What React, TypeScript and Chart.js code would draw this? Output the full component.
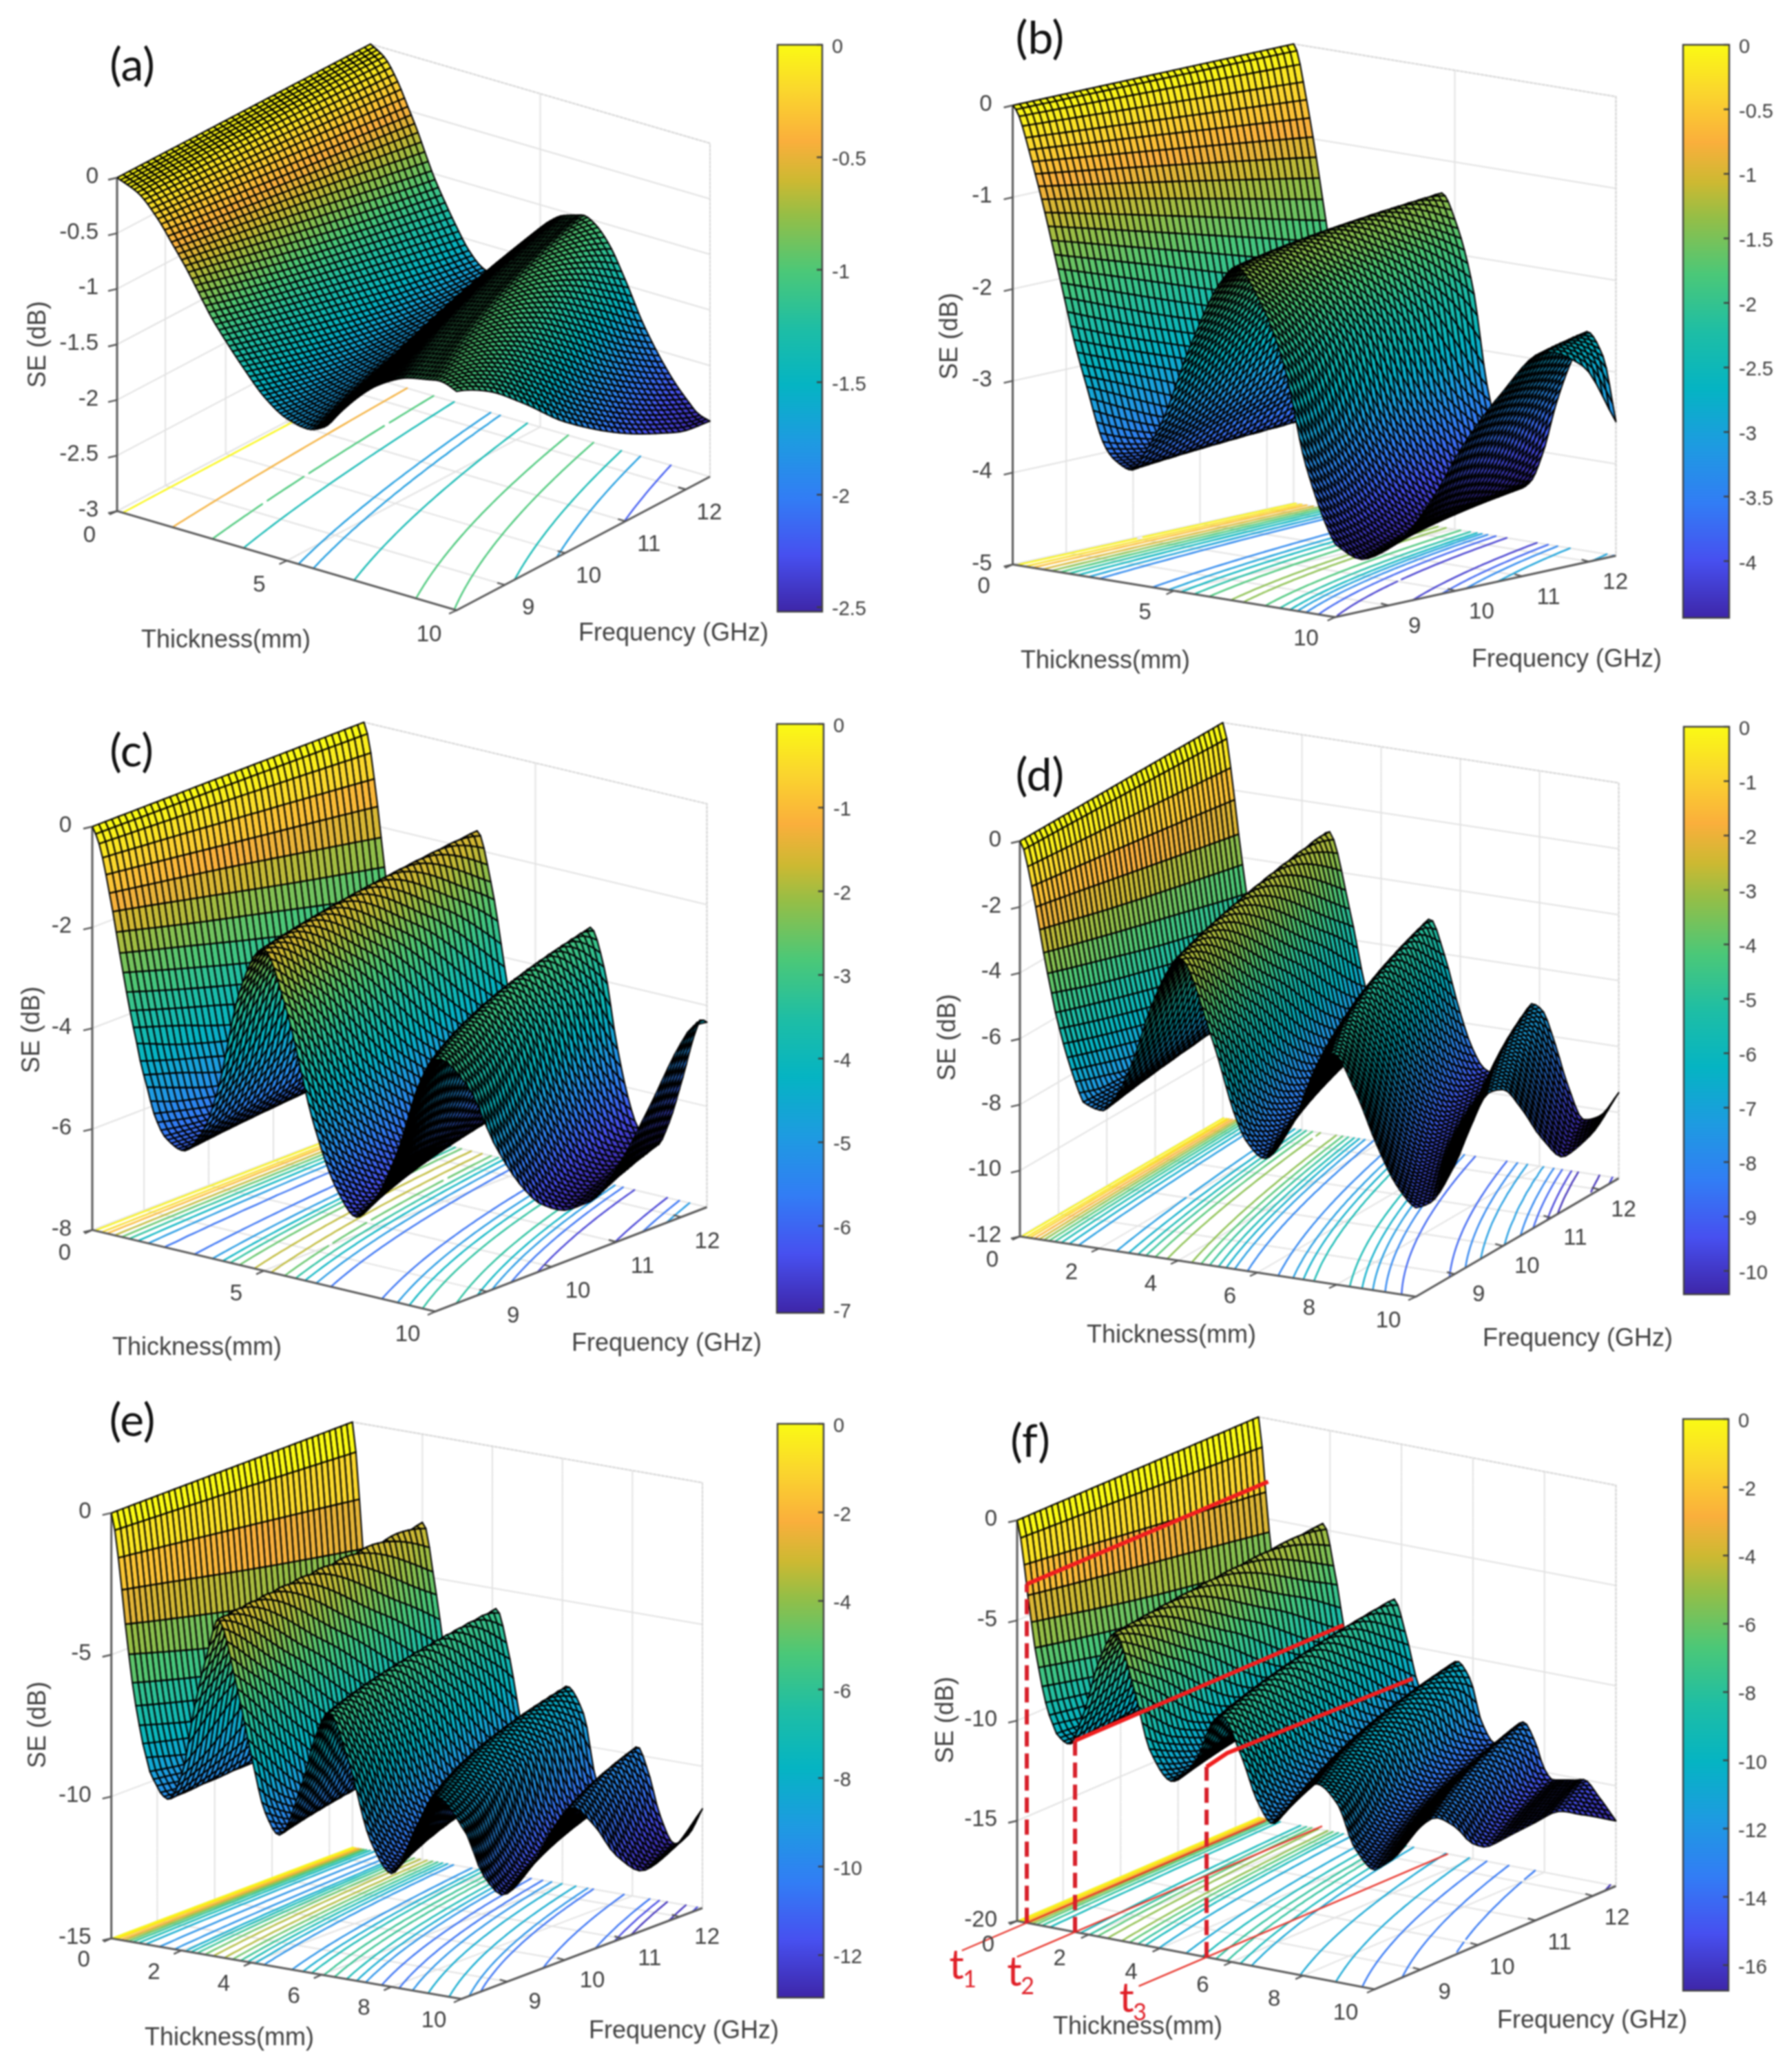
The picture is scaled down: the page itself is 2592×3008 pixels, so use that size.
import React, { useEffect, useRef } from 'react';
import { Chart, registerables, ScatterController } from 'chart.js';

// ---------- values ----------
// SE (dB) against the product thickness(mm) x frequency(GHz), per panel
const uA = [0,5,10,13,17,21,23,26,31,36,41,46,50,54,58,62,66,70,75,78,82,87,93,100,110,116,120,124];
const seA = [0,-0.08,-0.27,-0.43,-0.65,-0.9,-1.02,-1.17,-1.4,-1.6,-1.72,-1.76,-1.7,-1.52,-1.35,-1.21,-1.11,-1.04,-1.0,-0.98,-1.03,-1.17,-1.45,-1.82,-2.21,-2.38,-2.47,-2.5];
const uB = [0,1,2,4,7.5,12.2,15.8,18.7,23.5,26,30,35,38,45.6,53,57,63,69,74.6,82,86.6,91,96,101,106.6,113,119,124];
const seB = [0,-0.05,-0.15,-0.44,-0.99,-1.83,-2.48,-2.91,-3.55,-3.68,-3.76,-3.44,-3.18,-2.26,-1.55,-1.36,-1.7,-2.34,-3.4,-4.2,-4.44,-4.35,-4.0,-3.45,-2.98,-2.61,-2.85,-3.54];
const uC = [0,0.82,1.64,2.46,3.28,4.1,4.92,5.74,6.56,7.38,8.2,9.02,9.84,10.66,11.48,12.3,13.12,13.94,14.76,17.5,21.6,26,30,35,39.4,41,46,53,58.5,63,68,73.5,78,82,87,91.3,95.5,98.6,103,106,110,115,120,122,124];
const seC = [0,-0.13,-0.31,-0.57,-0.89,-1.24,-1.59,-1.98,-2.38,-2.75,-3.12,-3.47,-3.79,-4.09,-4.42,-4.68,-4.91,-5.17,-5.4,-5.82,-6.0,-5.6,-4.64,-2.65,-1.72,-1.62,-2.6,-4.86,-6.04,-6.5,-6.0,-4.88,-3.6,-3.0,-3.77,-5.17,-6.2,-6.7,-7.0,-7.0,-6.55,-5.6,-4.55,-4.3,-4.33];
const uD = [0,0.82,1.64,2.46,3.28,4.1,4.92,5.74,6.56,7.38,8.2,9.02,9.84,10.66,11.48,12.3,13.12,17,20,23.5,27,30.5,33,40,44.6,47,50.5,56.4,61,65,69.3,74,78,82,85,90,93,97,100,104,108,113,118,124];
const seD = [0,-0.24,-0.74,-1.32,-1.93,-2.6,-3.28,-3.89,-4.47,-5.04,-5.51,-5.95,-6.35,-6.71,-7.05,-7.37,-7.63,-7.8,-7.3,-6.12,-4.5,-3.3,-2.8,-5.2,-7.35,-8.08,-8.5,-7.35,-5.67,-5.0,-6.0,-7.6,-8.7,-9.3,-9.4,-8.7,-7.9,-7.1,-7.25,-8.2,-9.4,-10.38,-10.2,-9.4];
const uE = [0,0.82,1.64,2.46,3.28,4.1,4.92,5.74,6.56,7.38,8.2,9.02,10.5,12,13.4,16.7,19.4,22.7,25,29.4,32.8,36,39.2,44.8,48,51,55.5,60.8,65.6,71.6,76,82,86,89.6,94,98,101,105,109,114,119,124];
const seE = [0,-0.59,-1.54,-2.65,-3.84,-4.88,-5.86,-6.65,-7.32,-7.94,-8.41,-8.88,-9.3,-9.65,-9.75,-8.7,-6.4,-4.24,-3.1,-5.36,-7.7,-9.6,-10.33,-8.33,-6.55,-5.7,-7.27,-10,-11,-9.15,-8.0,-8.9,-11,-11.9,-11.3,-10.2,-9.7,-10.6,-12,-12.9,-12.5,-11.5];
const uF = [0,0.82,1.64,2.46,3.28,4.1,4.92,5.74,6.56,7.38,8.2,9.02,11.9,15,18.9,22.5,26.7,30.6,35.4,41,45,47,51.4,55.3,58.5,63,69,73.5,77.4,82,85,90.5,92,96,99,102,106,110,113,118,124];
const seF = [0,-0.85,-2.16,-3.65,-4.95,-6.2,-7.15,-8.06,-8.83,-9.42,-9.85,-10.27,-10.68,-9.2,-6.2,-4.7,-7.2,-10.27,-11.55,-10.3,-8.15,-7.8,-9.6,-11.8,-12.7,-11.5,-10.3,-11.1,-13.1,-14.04,-13.9,-12.8,-12.7,-13.6,-14.8,-15.3,-15.2,-15.1,-15,-15.7,-16.75];

const levelsA = [-0.02,-0.45,-1.02,-1.38,-1.75,-2.2];
const levelsB = [-0.05,-0.3,-0.6,-1,-1.4,-1.8,-2.2,-2.6,-3,-3.4,-3.8,-4.2];
const levelsC = [-0.1,-0.5,-1,-1.8,-2.6,-3.4,-4.2,-5,-5.8,-6.6];
const levelsD = [-0.1,-0.5,-1,-1.7,-2.5,-3.3,-4.1,-4.9,-5.7,-6.5,-7.3,-8.1,-8.9,-9.7,-10.2];
const levelsE = [-0.1,-0.5,-1.1,-2.3,-3.5,-4.7,-5.9,-7.1,-8.3,-9.5,-10.7,-11.9,-12.6];
const levelsF = [-0.2,-0.6,-1.2,-2,-3,-4,-5.2,-6.5,-8,-9.5,-11,-13.6,-16.4];

const thicknessTicksFew = [0,5,10];
const thicknessTicksMany = [0,2,4,6,8,10];
const frequencyTicks = [9,10,11,12];
const zTicksA = [0,-0.5,-1,-1.5,-2,-2.5,-3];
const zTicksB = [0,-1,-2,-3,-4,-5];
const zTicksC = [0,-2,-4,-6,-8];
const zTicksD = [0,-2,-4,-6,-8,-10,-12];
const zTicksE = [0,-5,-10,-15];
const zTicksF = [0,-5,-10,-15,-20];
const barTicksA = [0,-0.5,-1,-1.5,-2,-2.5];
const barTicksB = [0,-0.5,-1,-1.5,-2,-2.5,-3,-3.5,-4];
const barTicksC = [0,-1,-2,-3,-4,-5,-6,-7];
const barTicksD = [0,-1,-2,-3,-4,-5,-6,-7,-8,-9,-10];
const barTicksE = [0,-2,-4,-6,-8,-10,-12];
const barTicksF = [0,-2,-4,-6,-8,-10,-12,-14,-16];

// red markings of panel (f): [thickness, frequency, SE]
const redDashedF = [
  [[0.27,8.2,-20],[0.27,8.2,-3.1]],
  [[1.62,8.2,-20],[1.62,8.2,-10.45]],
  [[5.3,8.2,-20],[5.3,8.2,-10.5]],
];
const redSurfaceF = [
  [[0.27,8.2,-3.1],[0.27,12.4,-3.14]],
  [[1.62,8.2,-10.45],[1.62,12.87,-10.42]],
  [[5.3,8.2,-10.5],[5.3,8.56,-10.25],[5.3,11.79,-10.5]],
];
const redFloorF = [
  [[0.27,7.07,-20],[0.27,12.36,-20]],
  [[1.62,7.19,-20],[1.62,12.5,-20]],
  [[5.3,7.02,-20],[5.3,12.4,-20]],
];
const tLabelsF = [['1',1389,2854],['2',1473,2864],['3',1636,2902]];

const tGrid = Array.from({ length: 101 }, (_, i) => i / 10);
const fGrid = Array.from({ length: 43 }, (_, i) => 8.2 + i / 10);

// parula colour anchors
const parulaStops: [number, number, number, number][] = [
  [0, 62, 38, 168],[0.1, 71, 80, 240],[0.2, 50, 125, 245],[0.3, 30, 155, 225],[0.4, 5, 180, 195],
  [0.5, 30, 190, 165],[0.6, 75, 200, 120],[0.7, 150, 190, 70],[0.76, 205, 185, 50],[0.83, 250, 175, 60],[0.92, 250, 215, 45],[1, 250, 250, 20],
];
function parula(v: number) {
  const x = Math.max(0, Math.min(1, v));
  for (let i = 1; i < parulaStops.length; i++) {
    const a = parulaStops[i - 1], b = parulaStops[i];
    if (x <= b[0]) {
      const k = (x - a[0]) / (b[0] - a[0]);
      return `rgb(${Math.round(a[1] + k * (b[1] - a[1]))},${Math.round(a[2] + k * (b[2] - a[2]))},${Math.round(a[3] + k * (b[3] - a[3]))})`;
    }
  }
  return 'rgb(250,250,20)';
}

function profile(us: number[], ss: number[]) {
  const n = us.length, d: number[] = [], m: number[] = new Array(n).fill(0);
  for (let i = 0; i < n - 1; i++) d.push((ss[i + 1] - ss[i]) / (us[i + 1] - us[i]));
  m[0] = d[0]; m[n - 1] = d[n - 2];
  for (let i = 1; i < n - 1; i++) m[i] = d[i - 1] * d[i] <= 0 ? 0 : (2 * d[i - 1] * d[i]) / (d[i - 1] + d[i]);
  return (u: number) => {
    let i = 0;
    while (i < n - 2 && u > us[i + 1]) i++;
    const h = us[i + 1] - us[i], k = Math.min(1, (u - us[i]) / h), k2 = k * k, k3 = k2 * k;
    return (2 * k3 - 3 * k2 + 1) * ss[i] + (k3 - 2 * k2 + k) * h * m[i] + (-2 * k3 + 3 * k2) * ss[i + 1] + (k3 - k2) * h * m[i + 1];
  };
}

class SurfaceController extends ScatterController {
  static id = 'surface';
  draw() {
    const meta: any = this.getMeta();
    const ds: any = this.getDataset();
    const ctx = this.chart.ctx;
    const xs = meta.xScale, ys = meta.yScale;
    const nt = ds.nt, nf = ds.nf;
    const px = ds.data.map((p: any) => xs.getPixelForValue(p.x));
    const py = ds.data.map((p: any) => ys.getPixelForValue(p.y));
    ctx.save();
    ctx.lineWidth = ds.meshWidth;
    ctx.strokeStyle = ds.meshColor;
    ctx.lineJoin = 'round';
    for (let i = 0; i < nt - 1; i++) {
      for (let j = nf - 2; j >= 0; j--) {
        const a = i * nf + j, b = a + 1, c = a + nf + 1, e = a + nf;
        ctx.beginPath();
        ctx.moveTo(px[a], py[a]); ctx.lineTo(px[b], py[b]); ctx.lineTo(px[c], py[c]); ctx.lineTo(px[e], py[e]);
        ctx.closePath();
        ctx.fillStyle = ds.cellColor(ds.data[a].v);
        ctx.fill();
        ctx.stroke();
      }
    }
    ctx.restore();
  }
}
Chart.register(...registerables, SurfaceController);

const FONT = '"Liberation Sans", Arial, sans-serif';
const INK = '#404040';

type P = any;
const panels: P[] = [
  { name: '(a)', nameAt: [192, 96], rect: [0, 0, 1296, 1020], u: uA, se: seA, levels: levelsA, zMin: -3, cMin: -2.52,
    A: [170, 742], B: [663, 886], C: [1031, 692], top: 258, tTicks: thicknessTicksFew, zTicks: zTicksA, barTicks: barTicksA,
    tOff: [-40, 36], fOff: [34, 34], zGap: 27, tTitle: [328, 930], fTitle: [978, 920], seTitle: [56, 500], bar: [1129, 65, 65, 823] },
  { name: '(b)', nameAt: [1510, 57], rect: [1296, 0, 1296, 1020], u: uB, se: seB, levels: levelsB, zMin: -5, cMin: -4.44,
    A: [1470.6, 819.5], B: [1938.6, 896], C: [2346.5, 806.8], top: 153, tTicks: thicknessTicksFew, zTicks: zTicksB, barTicks: barTicksB,
    tOff: [-42, 32], fOff: [38, 31], zGap: 30, tTitle: [1605, 960], fTitle: [2275, 958], seTitle: [1380, 488], bar: [2444, 65, 67, 832] },
  { name: '(c)', nameAt: [191, 1092], rect: [0, 1020, 1296, 990], u: uC, se: seC, levels: levelsC, zMin: -8, cMin: -7.04,
    A: [134, 1785.6], B: [632, 1904], C: [1026.5, 1752.5], top: 1200, tTicks: thicknessTicksFew, zTicks: zTicksC, barTicks: barTicksC,
    tOff: [-40, 34], fOff: [38, 36], zGap: 30, tTitle: [286, 1957], fTitle: [968, 1951], seTitle: [47, 1495], bar: [1128, 1051, 68, 855] },
  { name: '(d)', nameAt: [1510, 1127], rect: [1296, 1020, 1296, 990], u: uD, se: seD, levels: levelsD, zMin: -12, cMin: -10.43,
    A: [1481, 1795], B: [2056, 1882.5], C: [2350.6, 1710.6], top: 1221, tTicks: thicknessTicksMany, zTicks: zTicksD, barTicks: barTicksD,
    tOff: [-40, 35], fOff: [35, 30], zGap: 27, tTitle: [1701, 1939], fTitle: [2291, 1944], seTitle: [1377, 1506], bar: [2445, 1055, 66, 824] },
  { name: '(e)', nameAt: [192, 2064], rect: [0, 2010, 1296, 998], u: uE, se: seE, levels: levelsE, zMin: -15, cMin: -12.96,
    A: [161.7, 2814], B: [670, 2902], C: [1020, 2770], top: 2196.4, tTicks: thicknessTicksMany, zTicks: zTicksE, barTicks: barTicksE,
    tOff: [-40, 32], fOff: [40, 30], zGap: 29, tTitle: [333, 2959], fTitle: [993, 2949], seTitle: [56, 2504], bar: [1129, 2067, 67, 833] },
  { name: '(f)', nameAt: [1496, 2094], rect: [1296, 2010, 1296, 998], u: uF, se: seF, levels: levelsF, zMin: -20, cMin: -16.75,
    A: [1477, 2788.7], B: [1996, 2888], C: [2346.5, 2738], top: 2207, tTicks: thicknessTicksMany, zTicks: zTicksF, barTicks: barTicksF,
    tOff: [-42, 35], fOff: [35, 33], zGap: 29, tTitle: [1652, 2943], fTitle: [2312, 2934], seTitle: [1374, 2497], bar: [2444, 2060, 66, 830],
    dashed: redDashedF, onSurface: redSurfaceF, onFloor: redFloorF, tLabels: tLabelsF },
];

function makeProjector(p: P) {
  const h = p.A[1] - p.top;
  return (t: number, f: number, z: number) => {
    const a = t / 10, s = (f - 8.2) / 4.2, k = (z - p.zMin) / -p.zMin;
    return {
      x: p.A[0] + a * (p.B[0] - p.A[0]) + s * (p.C[0] - p.B[0]),
      y: p.A[1] + a * (p.B[1] - p.A[1]) + s * (p.C[1] - p.B[1]) - k * h,
    };
  };
}

function buildPanelConfig(p: P) {
  const project = makeProjector(p);
  const P0 = profile(p.u, p.se);
  const colorOf = (v: number) => parula((v - p.cMin) / -p.cMin);
  const cache = new Map<number, string>();
  const cellColor = (v: number) => {
    const key = Math.round(((v - p.cMin) / -p.cMin) * 256);
    if (!cache.has(key)) cache.set(key, colorOf(v));
    return cache.get(key);
  };
  const val = tGrid.map((t) => fGrid.map((f) => P0(t * f)));
  const nodes: any[] = [];
  tGrid.forEach((t, i) => fGrid.forEach((f, j) => {
    const q = project(t, f, val[i][j]);
    nodes.push({ x: q.x, y: q.y, v: val[i][j] });
  }));

  const line3 = (segs: number[][][]) => {
    const out: any[] = [];
    segs.forEach((s) => {
      s.forEach((q) => out.push(project(q[0], q[1], q[2])));
      out.push({ x: null, y: null });
    });
    return out;
  };
  const fa = 8.2, fb = 12.4, zt = 0, zb = p.zMin;
  const grid: number[][][] = [];
  p.zTicks.forEach((z: number) => grid.push([[0, fa, z], [0, fb, z], [10, fb, z]]));
  p.tTicks.forEach((t: number) => grid.push([[t, fa, zb], [t, fb, zb], [t, fb, zt]]));
  frequencyTicks.forEach((f) => grid.push([[10, f, zb], [0, f, zb], [0, f, zt]]));
  const edges = [[[0, fb, zt], [10, fb, zt], [10, fb, zb]]];
  const axes = [[[0, fa, zt], [0, fa, zb], [10, fa, zb], [10, fb, zb]]];

  const isolines = p.levels.map((lv: number) => {
    const pts: any[] = [];
    const cross = (i0: number, j0: number, i1: number, j1: number) => {
      const a = val[i0][j0], b = val[i1][j1];
      if ((a - lv) * (b - lv) > 0 || a === b) return null;
      const k = (lv - a) / (b - a);
      return project(tGrid[i0] + k * (tGrid[i1] - tGrid[i0]), fGrid[j0] + k * (fGrid[j1] - fGrid[j0]), zb);
    };
    for (let i = 0; i < tGrid.length - 1; i++) {
      for (let j = 0; j < fGrid.length - 1; j++) {
        const found = [cross(i, j, i + 1, j), cross(i + 1, j, i + 1, j + 1), cross(i, j + 1, i + 1, j + 1), cross(i, j, i, j + 1)].filter(Boolean);
        if (found.length >= 2) pts.push(found[0], found[1], { x: null, y: null });
      }
    }
    return { type: 'scatter', showLine: true, data: pts, borderColor: colorOf(lv), borderWidth: 2.4, borderDash: [100000, 1], borderCapStyle: 'round', pointRadius: 0, order: 9 };
  });

  const lineDs = (data: any[], color: string, width: number, order: number, dash?: number[]) => ({
    type: 'scatter', showLine: true, data, borderColor: color, borderWidth: width, borderDash: dash || [100000, 1], pointRadius: 0, order,
  });

  const datasets: any[] = [
    lineDs(line3(grid), '#e2e2e2', 2, 12),
    lineDs(line3(edges), '#d4d4d4', 2, 11, [3, 3]),
    ...isolines,
    lineDs(line3(axes), '#595959', 3, 8),
    { type: 'surface', data: nodes, nt: tGrid.length, nf: fGrid.length, cellColor, meshWidth: 2.1, meshColor: '#000', pointRadius: 0, order: 6 },
  ];
  if (p.onFloor) {
    datasets.push(lineDs(line3(p.onFloor), '#e8352c', 2.4, 7));
    datasets.push(lineDs(line3(p.onSurface), '#f01e1e', 6, 2));
    datasets.push(lineDs(line3(p.dashed), '#d8202a', 6, 3, [22, 10]));
  }

  const textPlugin = {
    id: 'panelText',
    afterDatasetsDraw(chart: any) {
      const ctx = chart.ctx, X = chart.scales.x, Y = chart.scales.y;
      const sx = (v: number) => X.getPixelForValue(v), sy = (v: number) => Y.getPixelForValue(v);
      const seg = (a: any, b: any, dx: number, dy: number) => {
        ctx.beginPath(); ctx.moveTo(sx(a.x), sy(a.y)); ctx.lineTo(sx(b.x) + dx, sy(b.y) + dy); ctx.stroke();
      };
      ctx.save();
      ctx.fillStyle = INK;
      ctx.strokeStyle = '#555';
      ctx.lineWidth = 2.4;
      ctx.textBaseline = 'middle';
      ctx.font = `33px ${FONT}`;
      ctx.textAlign = 'right';
      p.zTicks.forEach((z: number) => {
        const q = project(0, fa, z);
        seg(q, q, -13, 3);
        ctx.fillText(String(z), sx(q.x) - p.zGap, sy(q.y) - 1);
      });
      ctx.textAlign = 'center';
      p.tTicks.forEach((t: number) => {
        const q = project(t, fa, zb);
        seg(q, q, -11, 5);
        ctx.fillText(String(t), sx(q.x) + p.tOff[0], sy(q.y) + p.tOff[1]);
      });
      frequencyTicks.forEach((f) => {
        const q = project(10, f, zb);
        seg(q, q, -11, -3);
        ctx.fillText(String(f), sx(q.x) + p.fOff[0], sy(q.y) + p.fOff[1]);
      });
      ctx.font = `36px ${FONT}`;
      ctx.fillText('Thickness(mm)', sx(p.tTitle[0]), sy(p.tTitle[1]));
      ctx.fillText('Frequency (GHz)', sx(p.fTitle[0]), sy(p.fTitle[1]));
      ctx.save();
      ctx.translate(sx(p.seTitle[0]), sy(p.seTitle[1]));
      ctx.rotate(-Math.PI / 2);
      ctx.fillText('SE (dB)', 0, 0);
      ctx.restore();
      ctx.fillStyle = '#111';
      ctx.font = `66px Lato, ${FONT}`;
      ctx.fillText(p.name, sx(p.nameAt[0]), sy(p.nameAt[1]));
      if (p.tLabels) {
        ctx.fillStyle = '#e01e26';
        p.tLabels.forEach((l: any) => {
          ctx.font = `60px Lato, ${FONT}`;
          ctx.fillText('t', sx(l[1]), sy(l[2]));
          ctx.font = `34px Lato, ${FONT}`;
          ctx.fillText(l[0], sx(l[1]) + 19, sy(l[2]) + 20);
        });
      }
      ctx.restore();
    },
  };

  const [rx, ry, rw, rh] = p.rect;
  return {
    type: 'scatter',
    data: { datasets },
    plugins: [textPlugin],
    options: {
      responsive: false,
      animation: false,
      events: [],
      layout: { padding: 0 },
      plugins: { legend: { display: false }, tooltip: { enabled: false } },
      elements: { line: { tension: 0 }, point: { radius: 0 } },
      scales: {
        x: { type: 'linear', display: false, min: rx, max: rx + rw },
        y: { type: 'linear', display: false, min: ry, max: ry + rh, reverse: true },
      },
    },
  };
}

function buildBarConfig(p: P) {
  const framePlugin = {
    id: 'barFrame',
    afterDraw(chart: any) {
      const { ctx, chartArea: a } = chart;
      const Y = chart.scales.y;
      ctx.save();
      ctx.strokeStyle = '#404040';
      ctx.lineWidth = 2.4;
      ctx.strokeRect(a.left, a.top, a.right - a.left, a.bottom - a.top);
      p.barTicks.forEach((v: number) => {
        const y = Y.getPixelForValue(v);
        ctx.beginPath(); ctx.moveTo(a.right - 8, y); ctx.lineTo(a.right, y); ctx.stroke();
      });
      ctx.restore();
    },
  };
  return {
    type: 'bar',
    data: {
      labels: ['SE'],
      datasets: [{
        data: [[p.cMin, 0]],
        barPercentage: 1,
        categoryPercentage: 1,
        backgroundColor: (c: any) => {
          const a = c.chart.chartArea;
          if (!a) return '#888';
          const g = c.chart.ctx.createLinearGradient(0, a.bottom, 0, a.top);
          parulaStops.forEach((s) => g.addColorStop(s[0], `rgb(${s[1]},${s[2]},${s[3]})`));
          return g;
        },
      }],
    },
    plugins: [framePlugin],
    options: {
      responsive: false,
      animation: false,
      events: [],
      layout: { padding: { top: 25, bottom: 25, left: 2, right: 0 } },
      plugins: { legend: { display: false }, tooltip: { enabled: false } },
      scales: {
        x: { type: 'category', display: false },
        y: {
          type: 'linear', position: 'right', min: p.cMin, max: 0,
          grid: { display: false }, border: { display: false },
          afterBuildTicks: (s: any) => { s.ticks = p.barTicks.map((v: number) => ({ value: v })); },
          afterFit: (s: any) => { s.width = 72; },
          ticks: { autoSkip: false, padding: 6, labelOffset: 4, color: INK, font: { family: FONT, size: 29 }, callback: (v: any) => String(v) },
        },
      },
    },
  };
}

function Canvas({ config, left, top, width, height }: any) {
  const ref = useRef<HTMLCanvasElement>(null);
  useEffect(() => {
    const chart = new Chart(ref.current as any, config());
    return () => chart.destroy();
  }, []);
  return <canvas ref={ref} width={width} height={height} style={{ position: 'absolute', left, top, width, height, filter: 'blur(0.8px)' }} />;
}

export default function App() {
  useEffect(() => { document.body.style.margin = '0'; document.body.style.background = '#fff'; }, []);
  return (
    <div style={{ position: 'absolute', left: 0, top: 0, width: 2592, height: 3008, overflow: 'hidden', background: '#fff' }}>
      {panels.map((p) => (
        <Canvas key={p.name} config={() => buildPanelConfig(p)} left={p.rect[0]} top={p.rect[1]} width={p.rect[2]} height={p.rect[3]} />
      ))}
      {panels.map((p) => (
        <Canvas key={'bar' + p.name} config={() => buildBarConfig(p)} left={p.bar[0] - 2} top={p.bar[1] - 25} width={p.bar[2] + 74} height={p.bar[3] + 50} />
      ))}
    </div>
  );
}
